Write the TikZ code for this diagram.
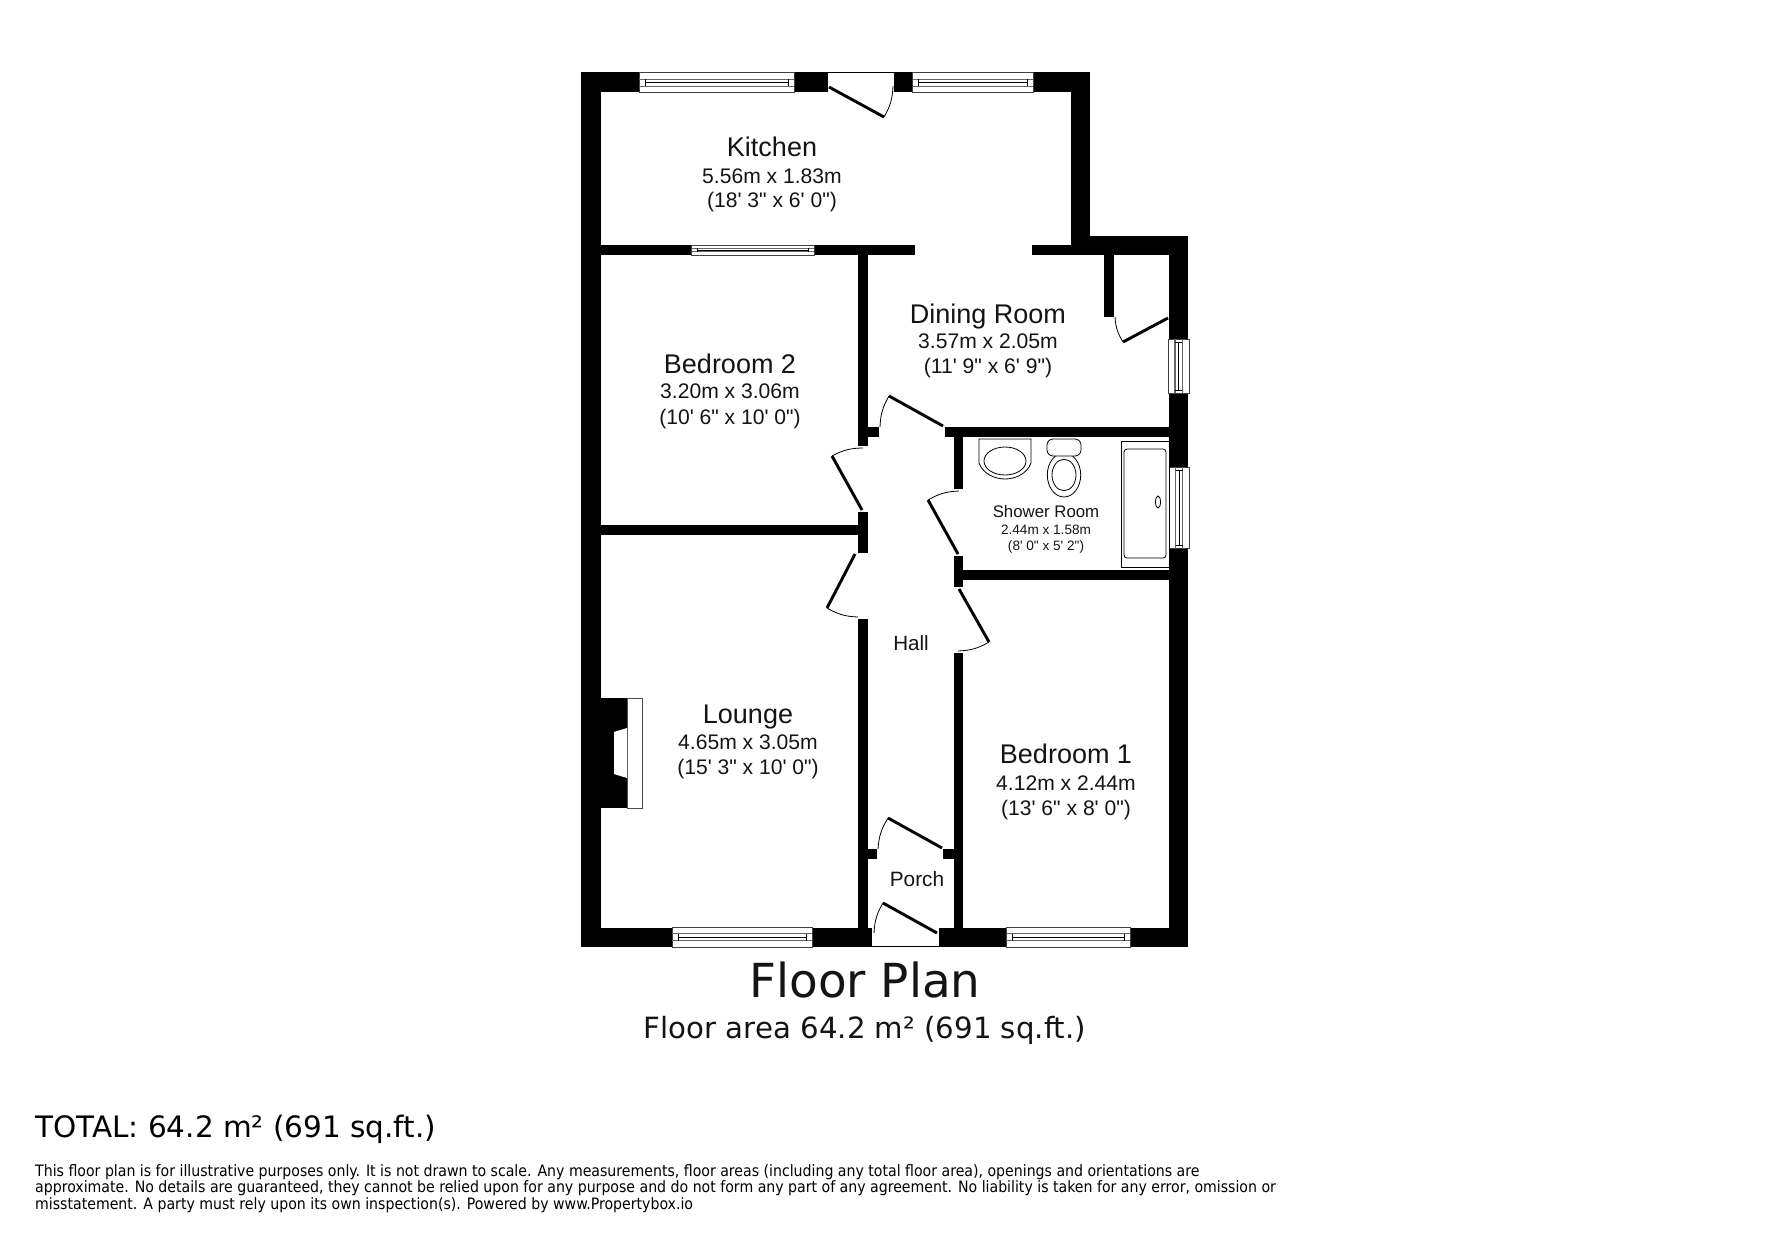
\documentclass[tikz,border=0pt]{standalone}
\usepackage{fontspec}
\setmainfont{Liberation Sans}[Ligatures=TeXOff]
\newfontfamily\djfont{DejaVu Sans}
\newfontfamily\djcfont{DejaVu Sans Condensed}
\newcommand{\fsz}[1]{\fontsize{#1}{#1}\selectfont}
\newcommand{\wallrect}[4]{\fill[wallfill] (#1,#2) rectangle (#3,#4);}
\newcommand{\hwin}[4]{%
  \draw[winframe] (#1,#2) rectangle (#3,#4);
  \draw[winbar] (#1,{#2+(#4-#2)*0.33}) -- (#3,{#2+(#4-#2)*0.33});
  \draw[winbar] (#1,{#2+(#4-#2)*0.68}) -- (#3,{#2+(#4-#2)*0.68});
  \draw[winthin] ({#1+6},{#2+(#4-#2)*0.5}) -- ({#3-6},{#2+(#4-#2)*0.5});
  \draw[winthin] ({#1+6},{#2+(#4-#2)*0.33}) -- ({#1+6},{#2+(#4-#2)*0.68});
  \draw[winthin] ({#3-6},{#2+(#4-#2)*0.33}) -- ({#3-6},{#2+(#4-#2)*0.68});}
\newcommand{\vwin}[4]{%
  \draw[winframe] (#1,#2) rectangle (#3,#4);
  \draw[winbar] ({#1+(#3-#1)*0.33},#2) -- ({#1+(#3-#1)*0.33},#4);
  \draw[winbar] ({#1+(#3-#1)*0.68},#2) -- ({#1+(#3-#1)*0.68},#4);
  \draw[winthin] ({#1+(#3-#1)*0.5},{#2+3}) -- ({#1+(#3-#1)*0.5},{#4-3});
  \draw[winthin] ({#1+(#3-#1)*0.33},{#2+3}) -- ({#1+(#3-#1)*0.68},{#2+3});
  \draw[winthin] ({#1+(#3-#1)*0.33},{#4-3}) -- ({#1+(#3-#1)*0.68},{#4-3});}
\tikzset{
  wallfill/.style={fill=black},
  winframe/.style={draw=black!75,fill=white,line width=1pt},
  winbar/.style={draw=black!60,line width=1.2pt},
  winthin/.style={draw=black,line width=0.8pt},
  leaf/.style={draw=black,line width=2.9pt},
  swing/.style={draw=black,line width=0.8pt},
  fixture/.style={draw=black,line width=0.8pt,fill=white},
  lbl/.style={anchor=base,inner sep=0pt,text=black!92},
  foot/.style={anchor=base west,inner sep=0pt,text=black},
}
\begin{document}
\begin{tikzpicture}[x=1pt,y=-1pt]
\useasboundingbox[fill=white] (0,0) rectangle (1771,1239);
% outer walls
\wallrect{581}{72}{601}{947}
\wallrect{581}{72}{827.6}{92}
\wallrect{894.4}{72}{1090}{92}
\wallrect{1071}{72}{1090}{255}
\wallrect{1071}{236}{1188}{255}
\wallrect{1032}{245}{1188}{255}
\wallrect{1169}{236}{1188}{947}
\wallrect{581}{928}{872}{947}
\wallrect{939}{928}{1188}{947}
% inner walls
\wallrect{601}{245}{915}{255}
\wallrect{858}{255}{868}{446}
\wallrect{868}{427}{879}{437}
\wallrect{858}{512}{868}{553}
\wallrect{601}{524.5}{858}{535}
\wallrect{858}{619}{868}{928}
\wallrect{868}{849}{877}{859}
\wallrect{945}{427}{1169}{437}
\wallrect{954}{437}{963}{489}
\wallrect{954}{556}{963}{587}
\wallrect{963}{570}{1169}{580}
\wallrect{954}{653}{963}{928}
\wallrect{943}{849}{954}{859}
\wallrect{1104}{255}{1114}{317}
% thresholds
\draw[swing] (827.6,72.5) -- (894.4,72.5);
\draw[swing] (872,946.5) -- (939,946.5);
% windows
\hwin{639}{72.5}{794}{92.5}
\hwin{912.6}{72.5}{1033}{92.5}
\hwin{691.6}{245}{814}{255}
\hwin{672}{927}{812}{947}
\hwin{1006}{927}{1130}{947}
\vwin{1168}{339}{1189}{393}
\vwin{1169}{467}{1189}{548}
% doors
\draw[leaf] (829,87) -- (884,117);
\draw[swing] (884,117) to[bend right=14] (893,86);
\draw[leaf] (1168,318) -- (1123,342);
\draw[swing] (1123,342) to[bend left=14] (1115,317);
\draw[leaf] (943,426) -- (889,396);
\draw[swing] (889,396) to[bend right=14] (880,427);
\draw[leaf] (862,510) -- (832,456);
\draw[swing] (832,456) to[bend left=14] (863,448);
\draw[leaf] (958,554) -- (928,500);
\draw[swing] (928,500) to[bend left=14] (959,491);
\draw[leaf] (855,554) -- (827,608);
\draw[swing] (827,608) to[bend right=14] (858,617);
\draw[leaf] (959,589) -- (989,642);
\draw[swing] (989,642) to[bend left=14] (958,651);
\draw[leaf] (942,848) -- (888,818);
\draw[swing] (888,818) to[bend right=14] (878,849);
\draw[leaf] (937,933) -- (883,903);
\draw[swing] (883,903) to[bend right=14] (874,933);
% fireplace
\fill[black] (601,698) rectangle (627,808);
\draw[winframe,draw=black!70] (627,698) rectangle (642,808);
\fill[white] (627,728) -- (614,732) -- (614,774) -- (627,778) -- cycle;
% basin
\draw[fixture] (979,439) -- (1031,439) -- (1031,463) .. controls (1027,474) and (1015,479) .. (1005,479) .. controls (995,479) and (983,474) .. (979,463) -- cycle;
\draw[fixture] (1005,461) ellipse (21 and 14);
% toilet
\draw[fixture] (1064,475) ellipse (16.7 and 22);
\draw[fixture] (1064,475) ellipse (12 and 15.7);
\draw[fixture,rounded corners=6pt] (1047,439) rectangle (1081,456);
% shower tray
\draw[fixture] (1121,441) rectangle (1169,567);
\draw[fixture,rounded corners=3pt] (1124,449) rectangle (1166,558);
\draw[fixture] (1158,502) ellipse (2.5 and 6);
% labels
\node[lbl,font=\fsz{27}] (kitchen) at (772,156) {Kitchen};
\node[lbl,font=\fsz{21.1}] (kitchena) at (772,183) {5.56m x 1.83m};
\node[lbl,font=\fsz{21.1}] (kitchenb) at (772,207) {(18' 3" x 6' 0")};
\node[lbl,font=\fsz{27}] (dining) at (988,323) {Dining Room};
\node[lbl,font=\fsz{21.1}] (dininga) at (988,348) {3.57m x 2.05m};
\node[lbl,font=\fsz{21.1}] (diningb) at (988,373) {(11' 9" x 6' 9")};
\node[lbl,font=\fsz{27}] (bedtwo) at (730,373) {Bedroom 2};
\node[lbl,font=\fsz{21.1}] (bedtwoa) at (730,398.5) {3.20m x 3.06m};
\node[lbl,font=\fsz{21.1}] (bedtwob) at (730,424) {(10' 6" x 10' 0")};
\node[lbl,font=\fsz{27}] (lounge) at (748,723) {Lounge};
\node[lbl,font=\fsz{21.1}] (loungea) at (748,749) {4.65m x 3.05m};
\node[lbl,font=\fsz{21.1}] (loungeb) at (748,774) {(15' 3" x 10' 0")};
\node[lbl,font=\fsz{27}] (bedone) at (1066,763) {Bedroom 1};
\node[lbl,font=\fsz{21.1}] (bedonea) at (1066,790) {4.12m x 2.44m};
\node[lbl,font=\fsz{21.1}] (bedoneb) at (1066,815) {(13' 6" x 8' 0")};
\node[lbl,font=\fsz{16.8}] (shower) at (1046,517) {Shower Room};
\node[lbl,font=\fsz{13.6}] (showera) at (1046,534) {2.44m x 1.58m};
\node[lbl,font=\fsz{13.6}] (showerb) at (1046,550) {(8' 0" x 5' 2")};
\node[lbl,font=\fsz{20.6}] (hall) at (911,650) {Hall};
\node[lbl,font=\fsz{20.8}] (porch) at (917,886) {Porch};
\node[lbl,font=\djfont\fsz{46.9}] (title) at (865,997) {Floor Plan};
\node[lbl,font=\djfont\fsz{29.25}] (area) at (865,1038) {Floor area 64.2 m² (691 sq.ft.)};
\node[foot,font=\djfont\fsz{29.5}] (total) at (35,1137) {TOTAL: 64.2 m² (691 sq.ft.)};
\node[foot,font=\djcfont\fsz{15.7}] (discone) at (35,1176) {This floor plan is for illustrative purposes only. It is not drawn to scale. Any measurements, floor areas (including any total floor area), openings and orientations are};
\node[foot,font=\djcfont\fsz{15.7}] (disctwo) at (35,1192) {approximate. No details are guaranteed, they cannot be relied upon for any purpose and do not form any part of any agreement. No liability is taken for any error, omission or};
\node[foot,font=\djcfont\fsz{15.7}] (discthree) at (35,1209) {misstatement. A party must rely upon its own inspection(s). Powered by www.Propertybox.io};
\end{tikzpicture}
\end{document}
